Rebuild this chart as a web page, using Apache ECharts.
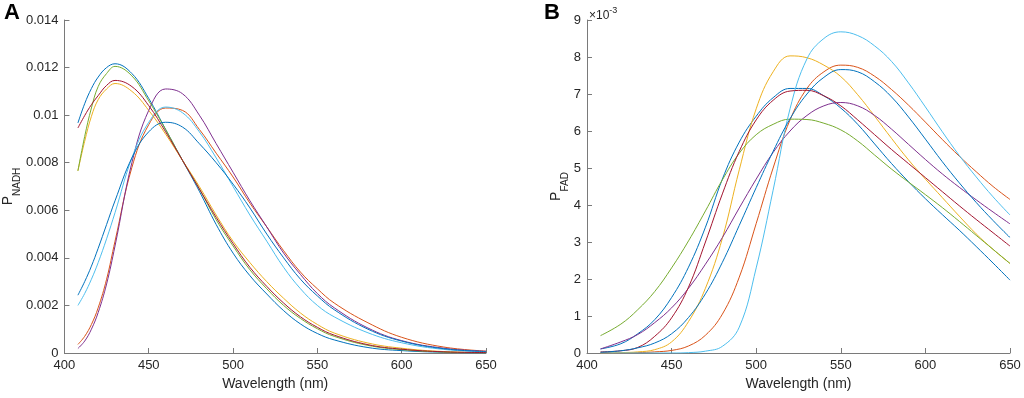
<!DOCTYPE html>
<html>
<head>
<meta charset="utf-8">
<script src="https://cdn.jsdelivr.net/npm/echarts@6/dist/echarts.min.js"></script>
<style>
html,body{margin:0;padding:0;background:#fff;}
#c{width:1024px;height:398px;}
</style>
</head>
<body>
<div id="c"></div>
<script>
// ---------- Panel A: NADH (wavelength in nm) ----------
const wlA = [408,412,416,420,425,430,440,450,460,470,480,490,500,510,520,530,540,550,560,580,600,625,650];
const nadhBlue1  = [0.00967,0.01048,0.01112,0.01160,0.01200,0.01216,0.01175,0.0107,0.0094,0.0081,0.0068,0.0054,0.0042,0.00325,0.00248,0.00178,0.00122,0.00082,0.00055,0.00023,0.0001,0.00003,0.00001];
const nadhOrange = [0.00036,0.0007,0.0012,0.0019,0.0031,0.0047,0.0078,0.0096,0.0103,0.0102,0.0094,0.0084,0.0074,0.0063,0.0053,0.0043,0.0034,0.0027,0.0021,0.00127,0.00066,0.00025,0.00008];
const nadhYellow = [0.00766,0.0089,0.00995,0.01065,0.0111,0.01133,0.0110,0.0102,0.0092,0.0081,0.0070,0.0058,0.0047,0.0038,0.0030,0.0023,0.00168,0.0012,0.00084,0.00042,0.0002,0.00006,0.00002];
const nadhPurple = [0.00019,0.0005,0.0010,0.0017,0.0029,0.0045,0.0080,0.0102,0.0111,0.0109,0.0100,0.0088,0.0076,0.0064,0.0053,0.0042,0.0033,0.0025,0.0019,0.00105,0.00052,0.0002,0.00007];
const nadhGreen  = [0.00766,0.0091,0.0103,0.0112,0.01175,0.01205,0.01165,0.0106,0.0094,0.0081,0.0069,0.0056,0.0045,0.0035,0.0027,0.0020,0.00145,0.00102,0.0007,0.00032,0.00014,0.00004,0.00001];
const nadhCyan   = [0.0020,0.0025,0.0031,0.0038,0.0048,0.0059,0.0082,0.0097,0.01034,0.0101,0.0093,0.0082,0.0070,0.0058,0.0047,0.0036,0.0027,0.0020,0.00152,0.00085,0.00043,0.00015,0.00005];
const nadhRed    = [0.00946,0.00998,0.01044,0.01082,0.01125,0.01146,0.0112,0.0104,0.0093,0.0081,0.0069,0.0057,0.0046,0.0036,0.0028,0.0021,0.00152,0.00108,0.00075,0.00035,0.00016,0.00005,0.00002];
const nadhBlue2  = [0.00243,0.0030,0.00365,0.0044,0.0054,0.0064,0.0082,0.0093,0.0097,0.0095,0.0088,0.0080,0.0071,0.0061,0.0050,0.0040,0.0031,0.0024,0.00182,0.0010,0.0005,0.00018,0.00006];
const ticksA = [0,0.002,0.004,0.006,0.008,0.01,0.012,0.014];

// ---------- Panel B: FAD (values in units of 10^-3) ----------
const wlB = [408,420,430,440,450,460,470,480,490,500,510,520,530,540,550,560,570,580,590,600,610,620,630,640,650];
const fadBlue1  = [0.11,0.25,0.52,0.90,1.50,2.32,3.40,4.70,5.70,6.40,6.90,7.15,7.15,6.95,6.62,6.18,5.65,5.12,4.63,4.17,3.74,3.32,2.88,2.43,1.97];
const fadOrange = [0,0,0.01,0.03,0.07,0.19,0.48,1.05,2.05,3.5,5.0,6.3,7.15,7.6,7.78,7.72,7.48,7.12,6.7,6.24,5.77,5.32,4.9,4.5,4.15];
const fadYellow = [0,0.01,0.03,0.09,0.30,0.85,1.75,3.1,4.95,6.6,7.6,8.03,7.98,7.78,7.47,6.98,6.4,5.8,5.22,4.7,4.2,3.7,3.22,2.8,2.42];
const fadPurple = [0.11,0.30,0.50,0.82,1.22,1.75,2.40,3.12,3.92,4.7,5.42,6.0,6.42,6.68,6.77,6.68,6.42,6.05,5.64,5.23,4.84,4.48,4.14,3.81,3.49];
const fadGreen  = [0.47,0.78,1.17,1.66,2.30,3.03,3.84,4.68,5.4,5.9,6.18,6.32,6.31,6.21,6.03,5.73,5.35,4.97,4.62,4.28,3.93,3.56,3.18,2.8,2.42];
const fadCyan   = [0,0,0,0,0,0.01,0.05,0.18,0.7,2.3,4.4,6.6,7.95,8.5,8.68,8.58,8.3,7.88,7.3,6.65,5.98,5.34,4.76,4.22,3.73];
const fadRed    = [0.03,0.06,0.15,0.45,0.95,1.78,3.0,4.3,5.45,6.3,6.83,7.08,7.1,6.95,6.68,6.3,5.9,5.5,5.12,4.74,4.36,3.98,3.61,3.25,2.89];
const fadBlue2  = [0.02,0.06,0.14,0.27,0.52,0.96,1.6,2.45,3.45,4.47,5.45,6.33,7.0,7.45,7.66,7.6,7.33,6.92,6.38,5.78,5.17,4.6,4.07,3.58,3.12];
const ticksB = [0,1,2,3,4,5,6,7,8,9];

const xTicks = [400,450,500,550,600,650];

const colors = ['#0072BD','#D95319','#EDB120','#7E2F8E','#77AC30','#4DBEEE','#A2142F','#0072BD'];
const seriesA = [nadhBlue1,nadhOrange,nadhYellow,nadhPurple,nadhGreen,nadhCyan,nadhRed,nadhBlue2];
const seriesB = [fadBlue1,fadOrange,fadYellow,fadPurple,fadGreen,fadCyan,fadRed,fadBlue2];

const axisColor = '#7a7a7a';
const textColor = '#262626';
const font = 'Liberation Sans, Arial, Helvetica, sans-serif';

function pairs(x, y){ return x.map((w,i)=>[w, y[i]]); }

function xAxisDef(gi){
  return {
    type:'value', gridIndex:gi, min:xTicks[0], max:xTicks[xTicks.length-1], interval:50,
    axisLine:{show:true, onZero:false, lineStyle:{color:axisColor, width:1}},
    axisTick:{show:true, inside:true, length:5, lineStyle:{color:axisColor}},
    axisLabel:{color:textColor, fontSize:13, fontFamily:font, margin:6},
    splitLine:{show:false},
    name:'Wavelength (nm)', nameLocation:'middle', nameGap:22,
    nameTextStyle:{color:textColor, fontSize:14, fontFamily:font}
  };
}

function yName(gap){
  return {
    nameLocation:'middle', nameRotate:90, nameGap:gap,
    nameTextStyle:{color:textColor, fontFamily:font,
      rich:{p:{fontSize:14, color:textColor, fontFamily:font, lineHeight:21, verticalAlign:'top'},
            s:{fontSize:10, color:textColor, fontFamily:font, lineHeight:21, verticalAlign:'bottom'}}}
  };
}

const series = [];
seriesA.forEach((ys,i)=>series.push({
  type:'line', xAxisIndex:0, yAxisIndex:0, data:pairs(wlA, ys), smooth:0.4,
  symbol:'none', lineStyle:{color:colors[i], width:1}, itemStyle:{color:colors[i]}, silent:true
}));
seriesB.forEach((ys,i)=>series.push({
  type:'line', xAxisIndex:1, yAxisIndex:1, data:pairs(wlB, ys), smooth:0.4,
  symbol:'none', lineStyle:{color:colors[i], width:1}, itemStyle:{color:colors[i]}, silent:true
}));

const option = {
  animation:false,
  backgroundColor:'#ffffff',
  grid:[
    {left:64, top:20, width:422, height:333},
    {left:587, top:20, width:423, height:333}
  ],
  xAxis:[xAxisDef(0), xAxisDef(1)],
  yAxis:[
    Object.assign({
      type:'value', gridIndex:0, min:ticksA[0], max:ticksA[ticksA.length-1], interval:0.002,
      axisLine:{show:true, lineStyle:{color:axisColor, width:1}},
      axisTick:{show:true, inside:true, length:5, lineStyle:{color:axisColor}},
      axisLabel:{color:textColor, fontSize:13, fontFamily:font, margin:6,
        formatter:v=>String(+v.toFixed(3))},
      splitLine:{show:false},
      name:'{p|P}{s|NADH}'
    }, yName(36)),
    Object.assign({
      type:'value', gridIndex:1, min:ticksB[0], max:ticksB[ticksB.length-1], interval:1,
      axisLine:{show:true, lineStyle:{color:axisColor, width:1}},
      axisTick:{show:true, inside:true, length:5, lineStyle:{color:axisColor}},
      axisLabel:{color:textColor, fontSize:13, fontFamily:font, margin:6},
      splitLine:{show:false},
      name:'{p|P}{s|FAD}'
    }, yName(12))
  ],
  graphic:[
    {type:'text', left:4, top:2, style:{text:'A', font:'bold 22px '+font, fill:'#000'}},
    {type:'text', left:544, top:2, style:{text:'B', font:'bold 22px '+font, fill:'#000'}},
    {type:'text', left:589, top:6, style:{text:'{a|×10}{b|-3}',
      rich:{a:{fontSize:12, fontFamily:font, fill:textColor, color:textColor, lineHeight:16, verticalAlign:'bottom'},
            b:{fontSize:9, fontFamily:font, fill:textColor, color:textColor, lineHeight:16, verticalAlign:'top'}}}}
  ],
  series:series
};

const chart = echarts.init(document.getElementById('c'), null, {renderer:'canvas'});
chart.setOption(option);
</script>
</body>
</html>
